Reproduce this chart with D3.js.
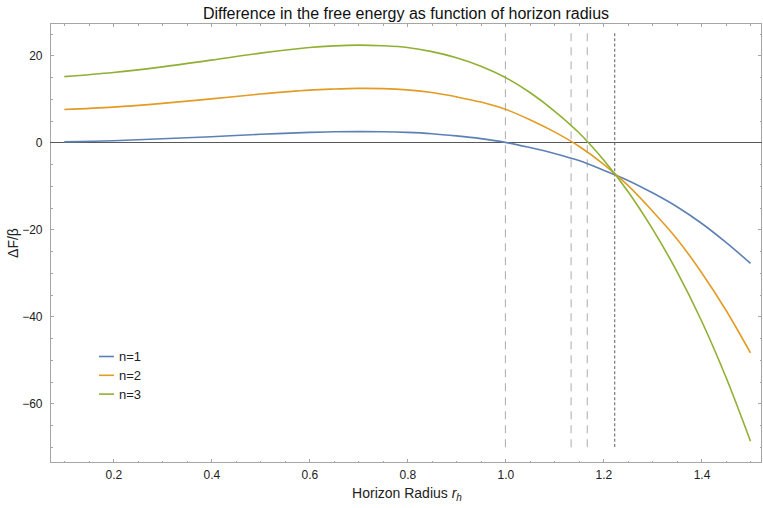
<!DOCTYPE html>
<html>
<head>
<meta charset="utf-8">
<script src="https://cdn.jsdelivr.net/npm/d3@7"></script>
<style>
  html, body { margin: 0; padding: 0; background: #fff; }
  svg { display: block; font-family: "Liberation Sans", Arial, Helvetica, sans-serif; }
</style>
</head>
<body>
<svg id="chart" width="763" height="508"></svg>
<script>
// ---- data ----
const radii = [0.1, 0.2, 0.3, 0.4, 0.5, 0.6, 0.65, 0.7, 0.75, 0.8, 0.85, 0.9, 0.95, 1.0, 1.05, 1.1, 1.15, 1.2, 1.25, 1.3, 1.35, 1.4, 1.45, 1.5];
const n1 = [0.1, 0.38, 0.81, 1.3, 1.85, 2.28, 2.42, 2.47, 2.44, 2.28, 1.98, 1.48, 0.85, 0.0, -1.2, -2.55, -4.2, -6.4, -8.75, -11.6, -14.8, -18.6, -23.0, -27.8];
const n2 = [7.55, 8.1, 8.95, 10.0, 11.1, 12.0, 12.25, 12.4, 12.35, 12.05, 11.45, 10.45, 9.25, 7.6, 5.2, 2.4, -0.9, -5.0, -9.9, -15.8, -22.2, -29.9, -38.6, -48.4];
const n3 = [15.1, 16.05, 17.35, 18.9, 20.5, 21.8, 22.18, 22.35, 22.2, 21.8, 20.85, 19.45, 17.5, 14.9, 11.45, 7.2, 2.2, -4.0, -11.3, -19.9, -29.7, -41.0, -54.0, -68.7];
const seriesNames = ["n=1", "n=2", "n=3"];
const seriesColors = ["#5E81B5", "#E19C24", "#8FB032"];
const markerRadii = [1.0, 1.134, 1.167, 1.223];
const markerSpan = [-70.3, 25.1];
const xMajorTicks = [0.2, 0.4, 0.6, 0.8, 1.0, 1.2, 1.4];
const xTickLabels = ["0.2", "0.4", "0.6", "0.8", "1.0", "1.2", "1.4"];
const yMajorTicks = [-60, -40, -20, 0, 20];
const yTickLabels = ["\u221260", "\u221240", "\u221220", "0", "20"];
const xDomain = [0.0708, 1.5235];
const yDomain = [-73.7, 27.43];

// ---- layout ----
const svg = d3.select("#chart");
const L = 50, R = 762, T = 23, B = 463;
const x = d3.scaleLinear().domain(xDomain).range([L, R]);
const y = d3.scaleLinear().domain(yDomain).range([B, T]);

const frameColor = "#a6a6a6";
const textColor = "#222";

// minor tick lists
const xMinor = d3.range(0.1, 1.5001, 0.05).map(v => +v.toFixed(2)).filter(v => !xMajorTicks.some(m => Math.abs(m - v) < 1e-6));
const yMinor = d3.range(-70, 25.001, 5).filter(v => !yMajorTicks.includes(v));

function styleAxis(g) {
  g.select(".domain").remove();
  g.selectAll(".tick line").attr("stroke", frameColor).attr("shape-rendering", "crispEdges");
  g.selectAll(".tick text").attr("fill", textColor).attr("font-size", 12);
}
const fmtX = (d) => xTickLabels[xMajorTicks.indexOf(d)];
const fmtY = (d) => yTickLabels[yMajorTicks.indexOf(d)];

// bottom
svg.append("g").attr("transform", `translate(0,${B})`)
  .call(d3.axisBottom(x).tickValues(xMajorTicks).tickFormat(fmtX).tickSizeInner(-4).tickSizeOuter(0).tickPadding(7.5))
  .call(styleAxis);
svg.append("g").attr("transform", `translate(0,${B})`)
  .call(d3.axisBottom(x).tickValues(xMinor).tickFormat("").tickSizeInner(-2.5).tickSizeOuter(0))
  .call(styleAxis);
// top
svg.append("g").attr("transform", `translate(0,${T})`)
  .call(d3.axisTop(x).tickValues(xMajorTicks).tickFormat("").tickSizeInner(-4).tickSizeOuter(0))
  .call(styleAxis);
svg.append("g").attr("transform", `translate(0,${T})`)
  .call(d3.axisTop(x).tickValues(xMinor).tickFormat("").tickSizeInner(-2.5).tickSizeOuter(0))
  .call(styleAxis);
// left
svg.append("g").attr("transform", `translate(${L},0)`)
  .call(d3.axisLeft(y).tickValues(yMajorTicks).tickFormat(fmtY).tickSizeInner(-4).tickSizeOuter(0).tickPadding(7.5))
  .call(styleAxis);
svg.append("g").attr("transform", `translate(${L},0)`)
  .call(d3.axisLeft(y).tickValues(yMinor).tickFormat("").tickSizeInner(-2.5).tickSizeOuter(0))
  .call(styleAxis);
// right
svg.append("g").attr("transform", `translate(${R},0)`)
  .call(d3.axisRight(y).tickValues(yMajorTicks).tickFormat("").tickSizeInner(-4).tickSizeOuter(0))
  .call(styleAxis);
svg.append("g").attr("transform", `translate(${R},0)`)
  .call(d3.axisRight(y).tickValues(yMinor).tickFormat("").tickSizeInner(-2.5).tickSizeOuter(0))
  .call(styleAxis);

// frame
svg.append("rect")
  .attr("x", L + 0.5).attr("y", T + 0.5)
  .attr("width", R - L - 1).attr("height", B - T - 1)
  .attr("fill", "none").attr("stroke", frameColor).attr("stroke-width", 1);

// zero axis line
svg.append("line")
  .attr("x1", L).attr("x2", R)
  .attr("y1", Math.round(y(0)) + 0.5).attr("y2", Math.round(y(0)) + 0.5)
  .attr("stroke", "#595959").attr("stroke-width", 1);

// vertical dashed marker lines
svg.selectAll("line.marker")
  .data(markerRadii)
  .join("line")
  .attr("class", "marker")
  .attr("x1", d => x(d)).attr("x2", d => x(d))
  .attr("y1", y(markerSpan[1])).attr("y2", y(markerSpan[0]))
  .attr("stroke", (d, i) => i === markerRadii.length - 1 ? "#6e6e6e" : "#b3b3b3")
  .attr("stroke-width", 1.1)
  .attr("stroke-dasharray", (d, i) => i === markerRadii.length - 1 ? "3,2.2" : "8,6");

// curves
const allSeries = [n1, n2, n3];
const lineGen = d3.line()
  .x((d, i) => x(radii[i]))
  .y(d => y(d))
  .curve(d3.curveCatmullRom.alpha(0.5));
svg.selectAll("path.series")
  .data(allSeries)
  .join("path")
  .attr("class", "series")
  .attr("d", d => lineGen(d))
  .attr("fill", "none")
  .attr("stroke", (d, i) => seriesColors[i])
  .attr("stroke-width", 1.6);

// legend
const leg = svg.append("g");
seriesNames.forEach((name, i) => {
  const yy = 356.5 + i * 18.8;
  leg.append("line").attr("x1", 99).attr("x2", 114).attr("y1", yy).attr("y2", yy)
    .attr("stroke", seriesColors[i]).attr("stroke-width", 1.6);
  leg.append("text").attr("x", 119).attr("y", yy).attr("dy", "0.36em")
    .attr("font-size", 13).attr("fill", textColor).text(name);
});

// title
svg.append("text").attr("x", 406).attr("y", 18.5).attr("text-anchor", "middle")
  .attr("font-size", 16).attr("fill", "#111")
  .text("Difference in the free energy as function of horizon radius");

// x label
const xl = svg.append("text").attr("x", 407).attr("y", 497.5).attr("text-anchor", "middle")
  .attr("font-size", 14).attr("fill", textColor);
xl.append("tspan").text("Horizon Radius ");
xl.append("tspan").attr("font-style", "italic").text("r");
xl.append("tspan").attr("font-style", "italic").attr("font-size", 10).attr("dy", 3).text("h");

// y label
svg.append("text").attr("transform", "translate(17.5,243) rotate(-90)")
  .attr("text-anchor", "middle").attr("font-size", 14).attr("fill", textColor)
  .text("\u0394F/\u03B2");
</script>
</body>
</html>
